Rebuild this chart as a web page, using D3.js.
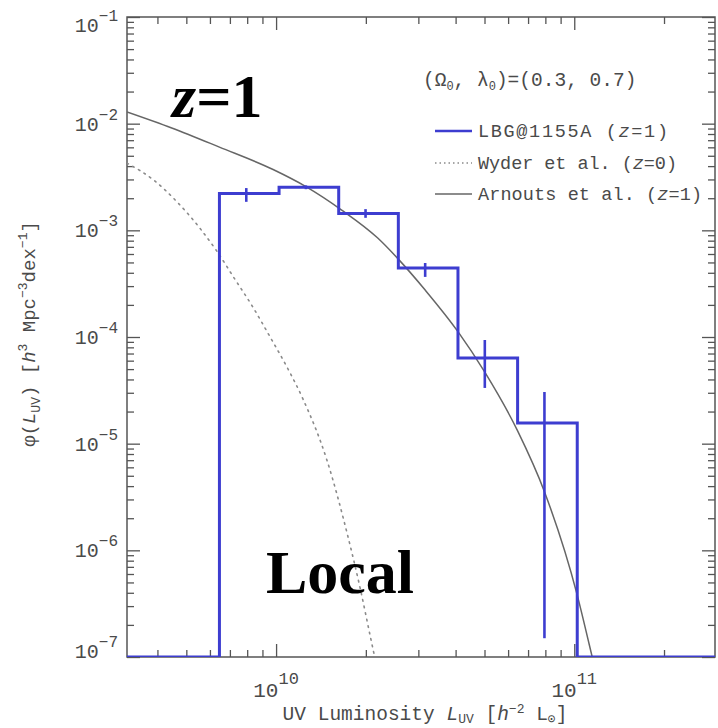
<!DOCTYPE html>
<html><head><meta charset="utf-8">
<script src="https://cdn.jsdelivr.net/npm/d3@7"></script>
<style>
  body { margin: 0; background: #fff; }
  text { font-family: "Liberation Mono", "DejaVu Sans Mono", monospace; fill: #4a4a4a; }
</style>
</head><body>
<svg id="chart" width="718" height="728"></svg>
<script>
// LBG@1155A luminosity function (z=1): bin edges in log10 L and densities
const binEdgesLog = [9.81, 10.01, 10.21, 10.41, 10.61, 10.81, 11.01];
const lbgPhi      = [2.22e-3, 2.53e-3, 1.44e-3, 4.44e-4, 6.36e-5, 1.56e-5];
// error bars at bin centres
const errCentersLog = [9.9, 10.1, 10.3, 10.5, 10.7, 10.9];
const errLow  = [1.85e-3, 2.43e-3, 1.31e-3, 3.66e-4, 3.33e-5, 1.5e-7];
const errHigh = [2.49e-3, 2.64e-3, 1.58e-3, 4.94e-4, 9.37e-5, 3.05e-5];

// Arnouts et al. (z=1) Schechter fit, sampled (log10 L, log10 phi)
const arnoutsLogL   = [9.50, 9.65, 9.81, 9.99, 10.10, 10.22, 10.34, 10.41, 10.50, 10.61, 10.70, 10.81, 10.90, 11.01, 11.05, 11.09];
const arnoutsLogPhi = [-1.89, -2.04, -2.22, -2.43, -2.59, -2.81, -3.07, -3.27, -3.56, -3.95, -4.33, -4.88, -5.45, -6.42, -6.88, -7.35];

// Wyder et al. (z=0) local luminosity function, sampled
const wyderLogL   = [9.50, 9.59, 9.67, 9.75, 9.80, 9.86, 9.92, 9.98, 10.04, 10.09, 10.17, 10.24, 10.28, 10.32, 10.35];
const wyderLogPhi = [-2.37, -2.53, -2.74, -3.00, -3.19, -3.45, -3.71, -4.00, -4.30, -4.58, -5.15, -5.86, -6.33, -6.86, -7.25];

// axis ticks
const yMajor = [1e-7, 1e-6, 1e-5, 1e-4, 1e-3, 1e-2, 1e-1];
const yTickExp = ["\u22127", "\u22126", "\u22125", "\u22124", "\u22123", "\u22122", "\u22121"];
const xMajor = [1e10, 1e11];
const xTickExp = ["10", "11"];
const xMinor = [4e9, 5e9, 6e9, 7e9, 8e9, 9e9, 2e10, 3e10, 4e10, 5e10, 6e10, 7e10, 8e10, 9e10, 2e11];

const svg = d3.select("#chart");
svg.append("rect").attr("width", 718).attr("height", 728).attr("fill", "#fff");

const L = 127, R = 715, T = 17, B = 657;
const x = d3.scaleLog().domain([Math.pow(10, 9.5), Math.pow(10, 11.472)]).range([L, R]);
const y = d3.scaleLog().domain([1e-7, 1e-1]).range([B, T]);

const yMinor = [];
yMajor.slice(0, -1).forEach(d => { for (let k = 2; k <= 9; k++) yMinor.push(d * k); });

// frame with inward ticks on all four sides
const frameColor = "#555";
function styleAxis(g) {
  g.select(".domain").remove();
  g.selectAll(".tick line").attr("stroke", frameColor).attr("stroke-width", 1.3);
  g.selectAll(".tick text").remove();
}
const axes = [
  [d3.axisBottom(x), `translate(0,${B})`, xMajor, xMinor],
  [d3.axisTop(x), `translate(0,${T})`, xMajor, xMinor],
  [d3.axisLeft(y), `translate(${L},0)`, yMajor, yMinor],
  [d3.axisRight(y), `translate(${R},0)`, yMajor, yMinor]
];
axes.forEach(([ax, tr, major, minor]) => {
  svg.append("g").attr("transform", tr)
    .call(ax.tickValues(major).tickSize(-13).tickFormat(() => "")).call(styleAxis);
  svg.append("g").attr("transform", tr)
    .call(ax.tickValues(minor).tickSize(-7).tickFormat(() => "")).call(styleAxis);
});
svg.append("rect").attr("x", L).attr("y", T).attr("width", R - L).attr("height", B - T)
  .attr("fill", "none").attr("stroke", frameColor).attr("stroke-width", 1.5);

// helper for text with italic / sub / superscript runs
function rich(textSel, parts, small) {
  let off = 0;
  parts.forEach(p => {
    const [s, kind] = typeof p === "string" ? [p, ""] : p;
    const ts = textSel.append("tspan").text(s);
    let target = 0;
    if (kind.includes("sup")) target = -small.up;
    if (kind.includes("sub")) target = small.down;
    ts.attr("dy", target - off);
    off = target;
    if (kind.includes("sup") || kind.includes("sub")) ts.attr("font-size", small.size);
    if (kind.includes("i")) ts.attr("font-style", "italic");
  });
  return textSel;
}

// y tick labels
yMajor.forEach((v, i) => {
  const cy = Math.max(25, Math.min(651, y(v)));
  const t = svg.append("text").attr("x", 118).attr("y", cy + 7)
    .attr("text-anchor", "end").attr("font-size", 20);
  rich(t, ["10", [yTickExp[i], "sup"]], { up: 11, down: 0, size: 16 });
});
// x tick labels
xMajor.forEach((v, i) => {
  const t = svg.append("text").attr("x", x(v)).attr("y", 697)
    .attr("text-anchor", "middle").attr("font-size", 21);
  rich(t, ["10", [xTickExp[i], "sup"]], { up: 13, down: 0, size: 17 });
});

// axis titles
rich(svg.append("text").attr("x", 425).attr("y", 720).attr("text-anchor", "middle").attr("font-size", 19.5),
  ["UV Luminosity ", ["L", "i"], ["UV", "sub"], " [", ["h", "i"], ["\u22122", "sup"], " L", ["\u2299", "sub"], "]"],
  { up: 7, down: 3, size: 13 });
rich(svg.append("text").attr("transform", "translate(35,334) rotate(-90)").attr("text-anchor", "middle").attr("font-size", 19),
  ["\u03c6(", ["L", "i"], ["UV", "sub"], ") [", ["h", "i"], ["3", "sup"], " Mpc", ["\u22123", "sup"], "dex", ["\u22121", "sup"], "]"],
  { up: 8, down: 5, size: 13 });

// plot contents, clipped to the frame
svg.append("clipPath").attr("id", "plot").append("rect")
  .attr("x", L).attr("y", T).attr("width", R - L).attr("height", B - T);
const plot = svg.append("g").attr("clip-path", "url(#plot)");

const curveLine = d3.line().x(d => x(Math.pow(10, d[0]))).y(d => y(Math.pow(10, d[1]))).curve(d3.curveMonotoneX);

plot.append("path").datum(wyderLogL.map((v, i) => [v, wyderLogPhi[i]]))
  .attr("d", curveLine).attr("fill", "none").attr("stroke", "#8a8a8a")
  .attr("stroke-width", 1.6).attr("stroke-dasharray", "1.6 5").attr("stroke-linecap", "round");

plot.append("path").datum(arnoutsLogL.map((v, i) => [v, arnoutsLogPhi[i]]))
  .attr("d", curveLine).attr("fill", "none").attr("stroke", "#666").attr("stroke-width", 1.5);

// LBG histogram as a step outline down to the bottom of the axis
const blue = "#3d3dd0";
const floor = y.domain()[0];
const steps = [[x.domain()[0], floor]];
binEdgesLog.slice(0, -1).forEach((e, i) => steps.push([Math.pow(10, e), lbgPhi[i]]));
steps.push([Math.pow(10, binEdgesLog[binEdgesLog.length - 1]), floor]);
steps.push([x.domain()[1], floor]);
plot.append("path").datum(steps)
  .attr("d", d3.line().x(d => x(d[0])).y(d => y(d[1])).curve(d3.curveStepAfter))
  .attr("fill", "none").attr("stroke", blue).attr("stroke-width", 3);

plot.selectAll("line.err").data(errCentersLog).enter().append("line")
  .attr("class", "err")
  .attr("x1", d => x(Math.pow(10, d))).attr("x2", d => x(Math.pow(10, d)))
  .attr("y1", (d, i) => y(errHigh[i])).attr("y2", (d, i) => y(errLow[i]))
  .attr("stroke", blue).attr("stroke-width", 2.6);

// legend
const lg = svg.append("g");
rich(lg.append("text").attr("x", 423).attr("y", 86).attr("font-size", 19.5),
  ["(\u03a9", ["0", "sub"], ", \u03bb", ["0", "sub"], ")=(0.3, 0.7)"], { up: 0, down: 4, size: 12 });
const legendRows = [
  { label: ["LBG@1155A (", ["z", "i"], "=1)"], stroke: blue, width: 2.6, dash: null, cy: 131, len: 190 },
  { label: ["Wyder et al. (", ["z", "i"], "=0)"], stroke: "#8a8a8a", width: 1.4, dash: "1.5 3", cy: 163, len: 199 },
  { label: ["Arnouts et al. (", ["z", "i"], "=1)"], stroke: "#666", width: 1.4, dash: null, cy: 194, len: 224 }
];
legendRows.forEach(r => {
  lg.append("line").attr("x1", 435).attr("x2", 472).attr("y1", r.cy).attr("y2", r.cy)
    .attr("stroke", r.stroke).attr("stroke-width", r.width).attr("stroke-dasharray", r.dash);
  rich(lg.append("text").attr("x", 478).attr("y", r.cy + 6).attr("font-size", 18.5)
      .attr("textLength", r.len).attr("lengthAdjust", "spacing"),
    r.label, { up: 0, down: 0, size: 18.5 });
});

// big annotations
const ann = svg.append("g").attr("font-weight", "bold");
const zt = ann.append("text").attr("x", 172).attr("y", 117).attr("font-size", 62).style("fill", "#000")
  .style("font-family", "'Liberation Serif', serif");
zt.append("tspan").attr("font-style", "italic").text("z");
zt.append("tspan").text("=1");
ann.append("text").attr("x", 266).attr("y", 593).attr("font-size", 62).style("fill", "#000")
  .style("font-family", "'Liberation Serif', serif").text("Local");
</script>
</body></html>
